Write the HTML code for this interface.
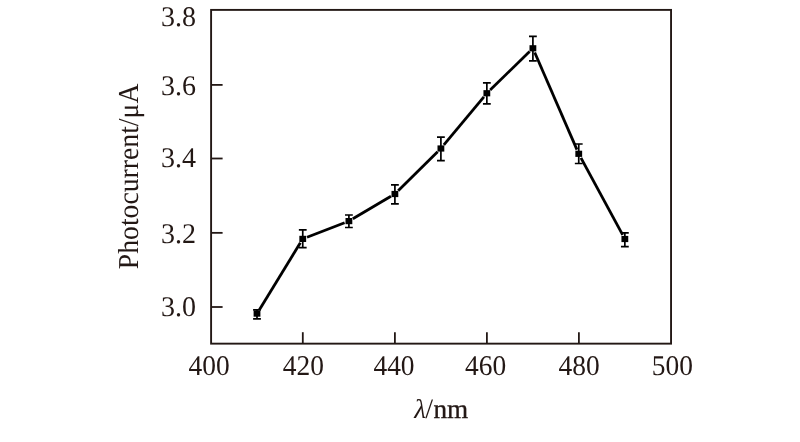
<!DOCTYPE html>
<html><head><meta charset="utf-8"><style>
html,body{margin:0;padding:0;background:#fff;}
svg{display:block;will-change:transform}
text{font-family:"Liberation Serif",serif;font-size:28px;fill:#231815;text-rendering:geometricPrecision;}
</style></head><body>
<svg width="800" height="442" viewBox="0 0 800 442">
<rect width="800" height="442" fill="#fff"/>
<rect x="211.1" y="9.9" width="459.95" height="333.75" fill="none" stroke="#231815" stroke-width="1.9"/>
<line x1="211.1" y1="84.9" x2="222.6" y2="84.9" stroke="#231815" stroke-width="1.8"/>
<line x1="211.1" y1="158.5" x2="222.6" y2="158.5" stroke="#231815" stroke-width="1.8"/>
<line x1="211.1" y1="232.85" x2="222.6" y2="232.85" stroke="#231815" stroke-width="1.8"/>
<line x1="211.1" y1="307.0" x2="222.6" y2="307.0" stroke="#231815" stroke-width="1.8"/>
<line x1="302.8" y1="343.65" x2="302.8" y2="332.2" stroke="#231815" stroke-width="1.8"/>
<line x1="394.9" y1="343.65" x2="394.9" y2="332.2" stroke="#231815" stroke-width="1.8"/>
<line x1="486.9" y1="343.65" x2="486.9" y2="332.2" stroke="#231815" stroke-width="1.8"/>
<line x1="578.9" y1="343.65" x2="578.9" y2="332.2" stroke="#231815" stroke-width="1.8"/>
<line x1="259.40" y1="309.68" x2="300.35" y2="242.82" stroke="#000" stroke-width="2.8"/>
<line x1="307.04" y1="237.24" x2="344.61" y2="222.76" stroke="#000" stroke-width="2.8"/>
<line x1="352.86" y1="218.77" x2="390.94" y2="196.33" stroke="#000" stroke-width="2.8"/>
<line x1="398.17" y1="190.77" x2="437.63" y2="151.73" stroke="#000" stroke-width="2.8"/>
<line x1="443.84" y1="144.96" x2="483.91" y2="96.79" stroke="#000" stroke-width="2.8"/>
<line x1="490.14" y1="90.04" x2="529.61" y2="51.51" stroke="#000" stroke-width="2.8"/>
<line x1="534.73" y1="52.52" x2="576.92" y2="149.58" stroke="#000" stroke-width="2.8"/>
<line x1="580.94" y1="157.85" x2="622.66" y2="234.95" stroke="#000" stroke-width="2.8"/>
<path d="M253.10 309.8H260.90M253.10 318.8H260.90M257.0 309.8V318.8" stroke="#000" stroke-width="1.7" fill="none"/>
<rect x="253.60" y="310.50" width="6.8" height="6.2" fill="#000"/>
<path d="M298.85 229.8H306.65M298.85 247.7H306.65M302.75 229.8V247.7" stroke="#000" stroke-width="1.7" fill="none"/>
<rect x="299.35" y="235.80" width="6.8" height="6.2" fill="#000"/>
<path d="M345.00 215.0H352.80M345.00 227.5H352.80M348.9 215.0V227.5" stroke="#000" stroke-width="1.7" fill="none"/>
<rect x="345.50" y="218.00" width="6.8" height="6.2" fill="#000"/>
<path d="M391.00 184.8H398.80M391.00 203.95H398.80M394.9 184.8V203.95" stroke="#000" stroke-width="1.7" fill="none"/>
<rect x="391.50" y="190.90" width="6.8" height="6.2" fill="#000"/>
<path d="M437.00 137.1H444.80M437.00 160.7H444.80M440.9 137.1V160.7" stroke="#000" stroke-width="1.7" fill="none"/>
<rect x="437.50" y="145.40" width="6.8" height="6.2" fill="#000"/>
<path d="M482.95 82.85H490.75M482.95 103.95H490.75M486.85 82.85V103.95" stroke="#000" stroke-width="1.7" fill="none"/>
<rect x="483.45" y="90.15" width="6.8" height="6.2" fill="#000"/>
<path d="M529.00 36.3H536.80M529.00 60.95H536.80M532.9 36.3V60.95" stroke="#000" stroke-width="1.7" fill="none"/>
<rect x="529.50" y="45.20" width="6.8" height="6.2" fill="#000"/>
<path d="M574.85 144.0H582.65M574.85 163.5H582.65M578.75 144.0V163.5" stroke="#000" stroke-width="1.7" fill="none"/>
<rect x="575.35" y="150.70" width="6.8" height="6.2" fill="#000"/>
<path d="M620.95 232.8H628.75M620.95 246.7H628.75M624.85 232.8V246.7" stroke="#000" stroke-width="1.7" fill="none"/>
<rect x="621.45" y="235.90" width="6.8" height="6.2" fill="#000"/>
<text transform="translate(196,26) scale(1,1.015)" text-anchor="end">3.8</text>
<text transform="translate(196,95) scale(1,1.015)" text-anchor="end">3.6</text>
<text transform="translate(196,167) scale(1,1.015)" text-anchor="end">3.4</text>
<text transform="translate(196,243) scale(1,1.015)" text-anchor="end">3.2</text>
<text transform="translate(196,316) scale(1,1.015)" text-anchor="end">3.0</text>
<text transform="translate(209.1,375) scale(0.98,1.02)" text-anchor="middle">400</text>
<text transform="translate(303.3,375) scale(0.98,1.02)" text-anchor="middle">420</text>
<text transform="translate(394.0,375) scale(0.98,1.02)" text-anchor="middle">440</text>
<text transform="translate(485.6,375) scale(0.98,1.02)" text-anchor="middle">460</text>
<text transform="translate(579.2,375) scale(0.98,1.02)" text-anchor="middle">480</text>
<text transform="translate(672.3,375) scale(0.98,1.02)" text-anchor="middle">500</text>
<text transform="translate(440.0,418) scale(1,1)" text-anchor="middle"><tspan font-style="italic" font-size="27" dx="1.2">λ</tspan><tspan dx="-0.6">/</tspan><tspan font-size="27.2" dx="0.4" stroke="#231815" stroke-width="0.35">nm</tspan></text>
<text transform="translate(138.0,176.4) rotate(-90) scale(0.989,1.03)" text-anchor="middle">Photocurrent/μA</text>
</svg>
</body></html>
